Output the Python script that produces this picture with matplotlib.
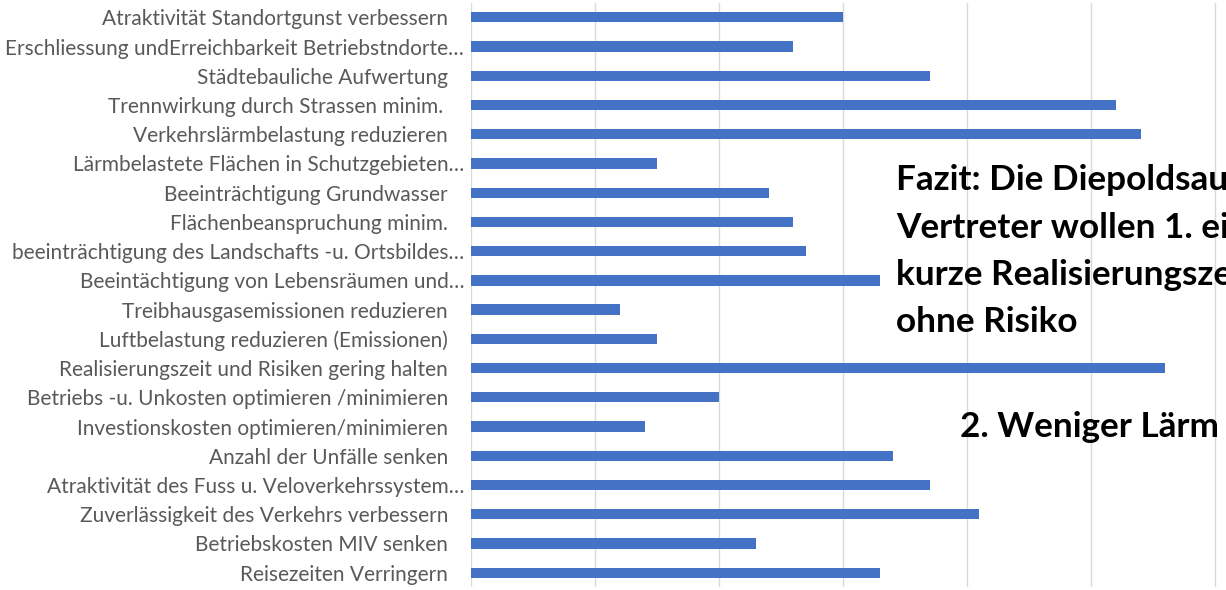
import matplotlib
matplotlib.use("Agg")
import matplotlib.pyplot as plt
import matplotlib.transforms as mtransforms

# Criteria (top to bottom) and their average ratings
categories = [
    "Atraktivität Standortgunst verbessern",
    "Erschliessung undErreichbarkeit Betriebstndorte…",
    "Städtebauliche Aufwertung",
    "Trennwirkung durch Strassen minim. ",
    "Verkehrslärmbelastung reduzieren",
    "Lärmbelastete Flächen in Schutzgebieten…",
    "Beeinträchtigung Grundwasser",
    "Flächenbeanspruchung minim.",
    "beeinträchtigung des Landschafts -u. Ortsbildes…",
    "Beeintächtigung von Lebensräumen und…",
    "Treibhausgasemissionen reduzieren",
    "Luftbelastung reduzieren (Emissionen)",
    "Realisierungszeit und Risiken gering halten",
    "Betriebs -u. Unkosten optimieren /minimieren",
    "Investionskosten optimieren/minimieren",
    "Anzahl der Unfälle senken",
    "Atraktivität des Fuss u. Veloverkehrssystem…",
    "Zuverlässigkeit des Verkehrs verbessern",
    "Betriebskosten MIV senken",
    "Reisezeiten Verringern",
]
values = [3.0, 2.6, 3.7, 5.2, 5.4, 1.5, 2.4, 2.6, 2.7, 3.3,
          1.2, 1.5, 5.6, 2.0, 1.4, 3.4, 3.7, 4.1, 2.3, 3.3]
grid_ticks = [0, 1, 2, 3, 4, 5, 6]

conclusion_lines = [
    "Fazit: Die Diepoldsauer",
    "Vertreter wollen 1. eine",
    "kurze Realisierungszeit",
    "ohne Risiko",
]
second_point = "2. Weniger Lärm"

W, H = 1226, 590
fig = plt.figure(figsize=(W / 100, H / 100), dpi=100)
fig.patch.set_facecolor("white")

ax = fig.add_axes([471 / W, 2.7 / H, (W - 471) / W, 584.6 / H])
positions = list(range(len(categories)))
ax.barh(positions, values, height=0.35, color="#4472C4", zorder=3)
ax.set_ylim(len(categories) - 0.5, -0.5)
ax.set_xlim(0, (W - 471) / 124.0)

ax.set_xticks(grid_ticks)
ax.set_xticklabels([])
ax.tick_params(axis="x", length=0)
ax.grid(axis="x", color="#d9d9d9", linewidth=1.0, zorder=0)
for s in ax.spines.values():
    s.set_visible(False)

ax.set_yticks(positions)
ax.set_yticklabels(categories, fontfamily="Lato", fontsize=15, color="#595959")
ax.tick_params(axis="y", length=0, pad=16.5)

# truncated labels sit a little closer to the axis
shift = mtransforms.ScaledTranslation(16 / 100, 0, fig.dpi_scale_trans)
for lbl in ax.get_yticklabels():
    if lbl.get_text().endswith("…"):
        lbl.set_transform(lbl.get_transform() + shift)

def px(x, y):
    return x / W, 1 - y / H

for text, base in zip(conclusion_lines, [190, 238, 285, 332]):
    fig.text(*px(896, base), text, fontfamily="Lato", fontweight="bold",
             fontsize=25.3, color="black", va="baseline", ha="left")
fig.text(*px(960, 437), second_point, fontfamily="Lato", fontweight="bold",
         fontsize=25.3, color="black", va="baseline", ha="left")

fig.savefig("out.png", dpi=100)
